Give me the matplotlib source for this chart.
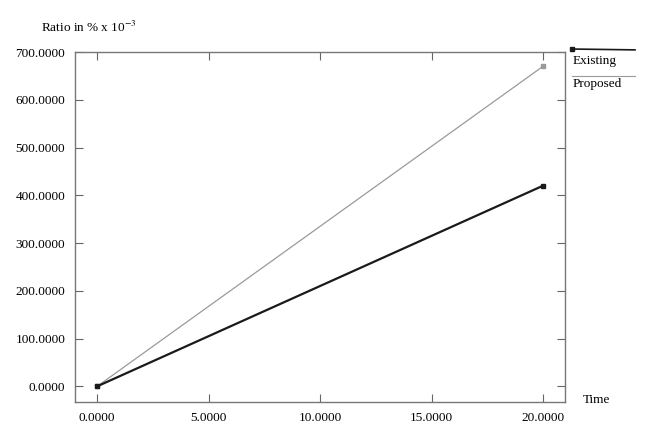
import matplotlib.pyplot as plt
from matplotlib.lines import Line2D

time = [0.0, 20.0]
existing = [0.0, 670.0]
proposed = [0.0, 420.0]
x_ticks = [0.0, 5.0, 10.0, 15.0, 20.0]
y_ticks = [0.0, 100.0, 200.0, 300.0, 400.0, 500.0, 600.0, 700.0]

plt.rcParams["font.family"] = ["Liberation Serif", "DejaVu Serif"]
plt.rcParams["mathtext.fontset"] = "stix"

fig = plt.figure(figsize=(6.46, 4.30), dpi=100)
ax = fig.add_axes([0.116, 0.065, 0.759, 0.814])

ax.plot(time, existing, color="#9a9a9a", lw=0.9, marker="s", ms=2.5)
ax.plot(time, proposed, color="#1a1a1a", lw=1.6, marker="s", ms=3)

ax.set_xlim(-1.0, 21.0)
ax.set_ylim(-33.0, 700.0)
ax.set_xticks(x_ticks)
ax.set_yticks(y_ticks)
ax.set_xticklabels([f"{v:.4f}" for v in x_ticks])
ax.set_yticklabels([f"{v:.4f}" for v in y_ticks])
ax.tick_params(direction="in", length=6, width=0.8, color="#666666",
               labelsize=9.5, top=True, right=True, pad=7)
for s in ax.spines.values():
    s.set_color("#777777")
    s.set_linewidth(1.0)

fig.text(0.064, 0.935, r"Ratio in % x 10$^{-3}$", fontsize=9.5, va="center")
fig.text(0.902, 0.07, "Time", fontsize=9.5, va="center")

# legend drawn outside the axes on the right
fig.add_artist(Line2D([0.885, 0.983], [0.886, 0.884], color="#1a1a1a", lw=1.2,
                      transform=fig.transFigure))
fig.add_artist(Line2D([0.885], [0.886], color="#1a1a1a", marker="s", ms=3,
                      transform=fig.transFigure))
fig.text(0.886, 0.857, "Existing", fontsize=9.5, va="center")
fig.add_artist(Line2D([0.885, 0.983], [0.823, 0.823], color="#9a9a9a", lw=0.8,
                      transform=fig.transFigure))
fig.text(0.886, 0.805, "Proposed", fontsize=9.5, va="center")

fig.savefig("out.png", dpi=100)
